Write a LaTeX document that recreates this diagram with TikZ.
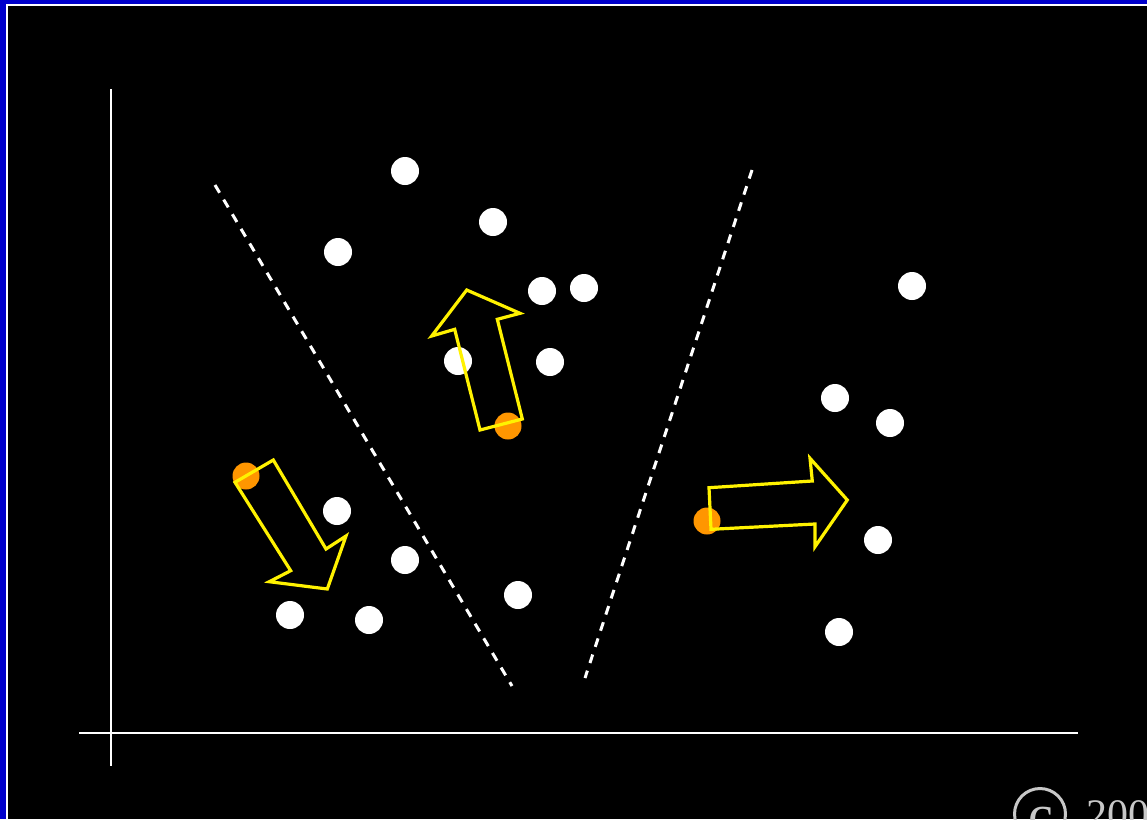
\documentclass[tikz,border=0pt]{standalone}
\usepackage{fontspec}
\setmainfont{Liberation Serif}
\begin{document}
\begin{tikzpicture}[x=1pt,y=-1pt,
  wdot/.style={circle,fill=white,draw=none,minimum size=28pt,inner sep=0pt},
  odot/.style={circle,fill=dotorange,draw=none,minimum size=27pt,inner sep=0pt},
  axis/.style={draw=white,line width=2.2pt},
  divider/.style={draw=white,line width=3pt,dash pattern=on 9pt off 8pt},
  yarrow/.style={draw=yellow,line width=3.2pt,line join=miter},
  copy/.style={text=copygray}]
\definecolor{dotorange}{RGB}{255,150,0}
\definecolor{copygray}{RGB}{200,200,200}
\definecolor{frameblue}{RGB}{0,0,204}
\useasboundingbox (0,0) rectangle (1147,819);
\clip (0,0) rectangle (1147,819);
\fill[frameblue] (0,0) rectangle (1147,819);
\fill[white] (6,4) rectangle (1147,819);
\fill[black] (8,6) rectangle (1147,819);
% axes
\coordinate (ytop) at (111,89);
\coordinate (ybot) at (111,766);
\coordinate (xl) at (79,733);
\coordinate (xr) at (1078,733);
\draw[axis] (ytop) -- (ybot);
\draw[axis] (xl) -- (xr);
% dividers
\coordinate (d1a) at (215,185);
\coordinate (d1b) at (512,686);
\coordinate (d2a) at (752,170);
\coordinate (d2b) at (585,678);
\draw[divider] (d1a) -- (d1b);
\draw[divider] (d2a) -- (d2b);
% white dots
\node[wdot] (w1) at (405,171) {};
\node[wdot] (w2) at (493,222) {};
\node[wdot] (w3) at (338,252) {};
\node[wdot] (w4) at (542,291) {};
\node[wdot] (w5) at (584,288) {};
\node[wdot] (w6) at (458,361) {};
\node[wdot] (w7) at (550,362) {};
\node[wdot] (w8) at (912,286) {};
\node[wdot] (w9) at (835,398) {};
\node[wdot] (w10) at (890,423) {};
\node[wdot] (w11) at (337,511) {};
\node[wdot] (w12) at (405,560) {};
\node[wdot] (w13) at (290,615) {};
\node[wdot] (w14) at (369,620) {};
\node[wdot] (w15) at (518,595) {};
\node[wdot] (w16) at (878,540) {};
\node[wdot] (w17) at (839,632) {};
% orange dots
\node[odot] (o1) at (508,426) {};
\node[odot] (o2) at (246,476) {};
\node[odot] (o3) at (707,521) {};
% arrows
\draw[yarrow] (466.7,290) -- (520,313.3) -- (497.3,319.3) -- (522.3,419) -- (480,430) -- (454.7,329.3) -- (431.7,336) -- cycle;
\draw[yarrow] (235,482.3) -- (273.3,460) -- (326,549) -- (346,536) -- (327.3,589) -- (269.3,581.7) -- (290.7,570.7) -- cycle;
\draw[yarrow] (709,487.7) -- (812.3,481) -- (810,458.3) -- (847.3,500) -- (815,546.7) -- (815,524) -- (711,529.3) -- cycle;
% copyright
\node[draw=copygray,line width=3pt,circle,minimum size=51pt,inner sep=0pt] (cc) at (1040,814) {};
\node[copy,font=\fontsize{56}{56}\selectfont,anchor=base] (cl) at (1041,833) {c};
\node[copy,font=\fontsize{42}{42}\selectfont,anchor=base west,inner sep=0pt] (yr) at (1086,828) {200};
\end{tikzpicture}
\end{document}
